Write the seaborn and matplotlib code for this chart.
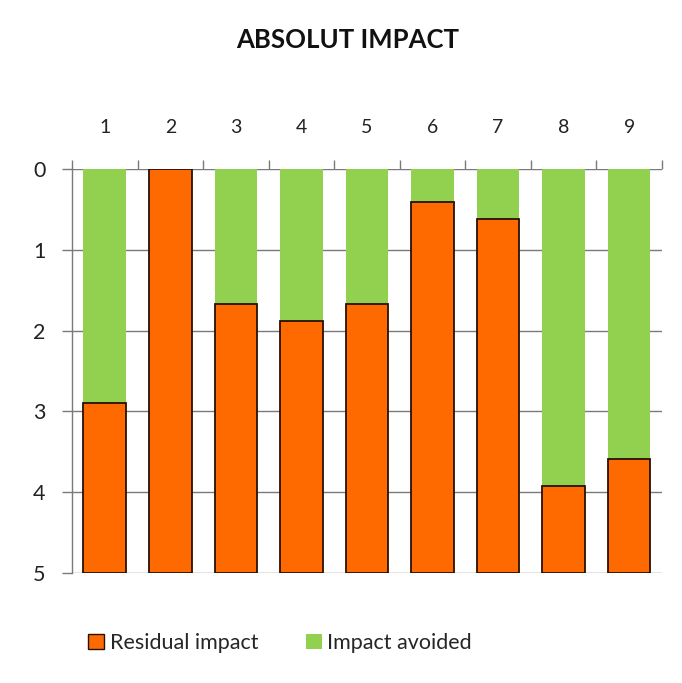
import matplotlib
matplotlib.use("Agg")
import matplotlib.pyplot as plt
import seaborn as sns
import pandas as pd
from matplotlib.patches import Patch
from matplotlib.ticker import FixedLocator

# Scale from 0 (top) to 5 (bottom); each column is split into avoided and residual impact
categories = ["1", "2", "3", "4", "5", "6", "7", "8", "9"]
impact_avoided = [2.9, 0.0, 1.67, 1.88, 1.67, 0.4, 0.62, 3.93, 3.59]
residual_impact = [2.1, 5.0, 3.33, 3.12, 3.33, 4.6, 4.38, 1.07, 1.41]
y_ticks = [0, 1, 2, 3, 4, 5]

ORANGE = "#FF6A00"
GREEN = "#92D050"

sns.set_theme(style="white")
plt.rcParams["font.family"] = ["Lato", "DejaVu Sans"]

df = pd.DataFrame({"cat": categories, "avoided": impact_avoided, "residual": residual_impact})

fig = plt.figure(figsize=(6.82, 6.83), dpi=100)
ax = fig.add_axes([0.1056, 0.1615, 0.865, 0.5905])

# gridlines behind the bars
for t in y_ticks:
    ax.axhline(t, color="#7a7a7a", lw=1.0, zorder=0)

sns.barplot(data=df, x="cat", y="avoided", color=GREEN, width=0.65,
            saturation=1, linewidth=0, ax=ax, zorder=2)
n = len(ax.patches)
sns.barplot(data=df, x="cat", y="residual", color=ORANGE, width=0.65,
            saturation=1, edgecolor="#2a1000", linewidth=1.3, ax=ax, zorder=3)
# residual part sits beneath the avoided part on the inverted scale
for patch, start in zip(ax.patches[n:], impact_avoided):
    patch.set_y(start)

ax.set_xlim(-0.5, len(categories) - 0.5)
ax.set_ylim(5, 0)
ax.set_xlabel("")
ax.set_ylabel("")

ax.xaxis.tick_top()
ax.set_xticks(range(len(categories)))
ax.set_xticklabels(categories, fontsize=14, color="#222222")
ax.xaxis.set_minor_locator(FixedLocator([i - 0.5 for i in range(len(categories) + 1)]))
ax.tick_params(axis="x", which="major", length=0, pad=24, top=True, bottom=False)
ax.tick_params(axis="x", which="minor", length=6.5, color="#7a7a7a", width=1, top=True, bottom=False)

ax.set_yticks(y_ticks)
ax.set_yticklabels([str(t) for t in y_ticks], fontsize=15.5, color="#222222")
ax.tick_params(axis="y", which="major", length=7, color="#7a7a7a", width=1, left=True, pad=12)

for side in ["right", "bottom", "top"]:
    ax.spines[side].set_visible(False)
ax.spines["left"].set_color("#7a7a7a")
ax.spines["left"].set_linewidth(1.0)

fig.text(348 / 682, 1 - 40 / 683, "ABSOLUT IMPACT", ha="center", va="center",
         fontsize=18.5, fontweight="bold", color="#111111")

handles = [Patch(facecolor=ORANGE, edgecolor="#2a1000", linewidth=1.0, label="Residual impact"),
           Patch(facecolor=GREEN, edgecolor="none", label="Impact avoided")]
fig.legend(handles=handles, loc="center", bbox_to_anchor=(280 / 682, 1 - 643 / 683),
           ncol=2, frameon=False, fontsize=15.5, handlelength=0.75, handleheight=0.75,
           handletextpad=0.25, columnspacing=2.2)

fig.savefig("out.png", dpi=100, facecolor="white")
